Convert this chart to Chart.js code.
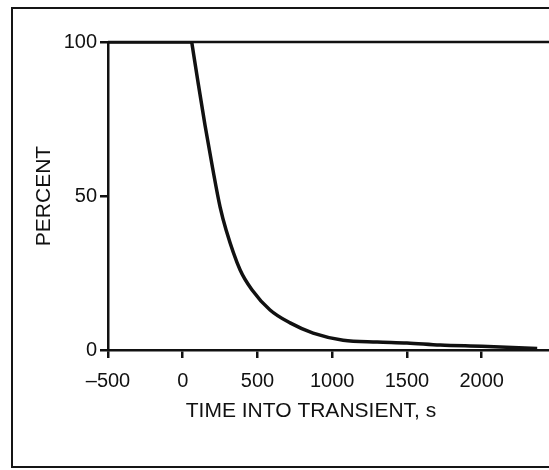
<!DOCTYPE html>
<html>
<head>
<meta charset="utf-8">
<script src="https://cdn.jsdelivr.net/npm/chart.js@4.4.1/dist/chart.umd.min.js"></script>
<style>
    html, body { margin: 0; padding: 0; background: #fff; overflow: hidden; }
    #wrap { position: relative; width: 549px; height: 470px; }
    #frame { position: absolute; left: 11px; top: 7px; width: 620px; height: 457px; border: 2px solid #151515; }
    canvas { position: absolute; left: 0; top: 0; }
</style>
</head>
<body>
<div id="wrap">
    <div id="frame"></div>
    <canvas id="chart" width="549" height="470"></canvas>
</div>
<script>
// values
const flatTime = [-500, 60];
const flatPercent = [100, 100];
const decayTime = [60, 102, 149, 200, 250, 290, 384, 464, 584, 718, 872, 1073, 1300, 1500, 1722, 2000, 2371];
const decayPercent = [100, 87, 73, 59, 46.4, 39, 26, 19.5, 13, 8.8, 5.5, 3.2, 2.6, 2.3, 1.6, 1.2, 0.5];
const xTicks = [-500, 0, 500, 1000, 1500, 2000];
const yTicks = [0, 50, 100];

const ink = '#111';
const tickFont = { family: '"Liberation Sans", Arial, sans-serif', size: 20 };
const titleFont = { family: '"Liberation Sans", Arial, sans-serif', size: 21 };

const toPoints = (xs, ys) => xs.map((x, i) => ({ x: x, y: ys[i] }));

// top edge of the plot box
const topLine = {
    id: 'topLine',
    afterDraw(chart) {
        const { ctx, chartArea } = chart;
        ctx.save();
        ctx.strokeStyle = ink;
        ctx.lineWidth = 2.5;
        ctx.beginPath();
        ctx.moveTo(chartArea.left, chartArea.top);
        ctx.lineTo(chartArea.right, chartArea.top);
        ctx.stroke();
        ctx.restore();
    }
};

new Chart(document.getElementById('chart').getContext('2d'), {
    type: 'scatter',
    data: {
        datasets: [{
            data: toPoints(flatTime, flatPercent),
            showLine: true,
            borderColor: ink,
            borderWidth: 3.5,
            pointRadius: 0
        }, {
            data: toPoints(decayTime, decayPercent),
            showLine: true,
            borderColor: ink,
            borderWidth: 3.5,
            pointRadius: 0,
            cubicInterpolationMode: 'monotone'
        }]
    },
    options: {
        responsive: false,
        animation: false,
        layout: { padding: { top: 42, left: 0, right: 0, bottom: 0 } },
        plugins: { legend: { display: false }, tooltip: { enabled: false } },
        scales: {
            x: {
                type: 'linear',
                min: -500,
                max: 2450,
                afterFit: (s) => { s.height = 120; },
                afterBuildTicks: (s) => { s.ticks = xTicks.map(v => ({ value: v })); },
                grid: { drawOnChartArea: false, drawTicks: true, tickLength: 8, color: ink, lineWidth: 2.5 },
                border: { display: true, color: ink, width: 2.5 },
                ticks: {
                    color: ink,
                    font: tickFont,
                    padding: 11,
                    maxRotation: 0,
                    callback: (v) => (v < 0 ? '\u2013' + Math.abs(v) : String(v))
                },
                title: {
                    display: true,
                    // trailing spaces nudge the centred title left, as in the original
                    text: 'TIME INTO TRANSIENT, s\u00a0\u00a0\u00a0\u00a0\u00a0\u00a0',
                    color: ink,
                    font: titleFont,
                    padding: { top: 0, bottom: 46 }
                }
            },
            y: {
                min: 0,
                max: 100,
                afterFit: (s) => { s.width = 108; },
                afterBuildTicks: (s) => { s.ticks = yTicks.map(v => ({ value: v })); },
                grid: { drawOnChartArea: false, drawTicks: true, tickLength: 8, color: ink, lineWidth: 2.5 },
                border: { display: true, color: ink, width: 2.5 },
                ticks: { color: ink, font: tickFont, padding: 3 },
                title: {
                    display: true,
                    text: 'PERCENT',
                    color: ink,
                    font: titleFont,
                    padding: { top: 32, bottom: 0 }
                }
            }
        }
    },
    plugins: [topLine]
});
</script>
</body>
</html>
